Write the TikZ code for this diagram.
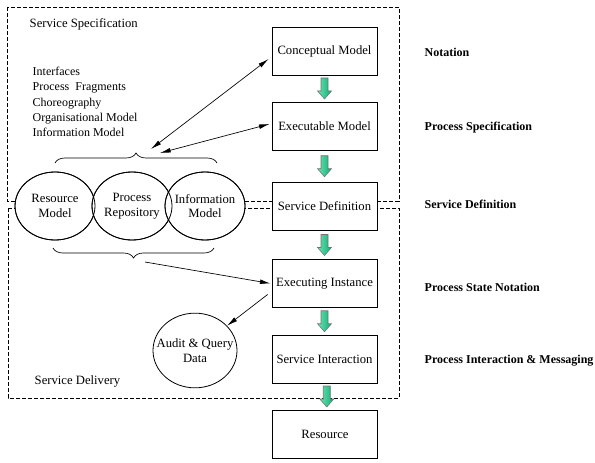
\documentclass[tikz,border=0pt]{standalone}
\usepackage{fontspec}
\setmainfont{Liberation Serif}
\usepackage{tikz}
\usetikzlibrary{shapes.geometric,arrows.meta,positioning,calc,
                decorations.pathreplacing}
\definecolor{vertFleche}{RGB}{10,175,120}
\definecolor{vertClair}{RGB}{110,225,175}

\begin{document}
\begin{tikzpicture}[x=0.75pt,y=-0.75pt,font=\rmfamily\fontsize{9.5}{11}\selectfont,
  boite/.style={rectangle,draw,line width=0.6pt,fill=white,minimum width=78.75pt,
                minimum height=36pt,inner sep=0pt},
  bulle/.style={ellipse,draw,line width=0.6pt,fill=white,minimum width=60pt,
                minimum height=51pt,inner xsep=-5pt,inner ysep=0pt,align=center},
  zone/.style={draw,line width=0.6pt,dash pattern=on 3pt off 1.5pt},
  etape/.style={anchor=west,font=\rmfamily\fontsize{9}{11}\selectfont\bfseries},
  fleche/.pic={\shadedraw[draw=black!55,line width=0.4pt,left color=vertClair,
                 right color=vertFleche]
                 (-3.5,-10.5) -- ++(7,0) -- ++(0,13) -- ++(3.5,0) -- ++(-7,8)
                 -- ++(-7,-8) -- ++(3.5,0) -- cycle;},
  lien/.style={{Latex[length=8pt,width=3.5pt]}-{Latex[length=8pt,width=3.5pt]},line width=0.5pt},
  sens/.style={-{Latex[length=8pt,width=3.5pt]},line width=0.5pt}]

  \useasboundingbox (0,0) rectangle (595,463);

  % zones en pointilles
  \draw[zone] (7,7) rectangle (399,201);
  \draw[zone] (8,208) rectangle (399,398);
  \node[anchor=west] (spec) at (25,24) {Service Specification};
  \node[anchor=west] (deliv) at (30,381) {Service Delivery};

  % chaine principale
  \node[boite] (CM) at (324.5,51) {Conceptual Model};
  \node[boite] (EM) at (324.5,126) {Executable Model};
  \node[boite] (SD) at (324.5,206.5) {Service Definition};
  \node[boite] (EI) at (324.5,283.5) {Executing Instance};
  \node[boite] (SI) at (324.5,359) {Service Interaction};
  \node[boite] (RS) at (325,434) {Resource};

  \pic at ($(CM.south)!0.5!(EM.north)$) {fleche};
  \pic at ($(EM.south)!0.5!(SD.north)$) {fleche};
  \pic at ($(SD.south)!0.5!(EI.north)$) {fleche};
  \pic at ($(EI.south)!0.5!(SI.north)$) {fleche};
  \pic at ($(SI.south)!0.5!(RS.north)+(2,0)$) {fleche};

  % niveaux
  \node[etape] (n1) at (420,52) {Notation};
  \node[etape] (n2) at (420,128) {Process Specification};
  \node[etape] (n3) at (420,204) {Service Definition};
  \node[etape] (n4) at (420,287) {Process State Notation};
  \node[etape] (n5) at (420,361) {Process Interaction \& Messaging};

  % depots
  \node[anchor=west,align=left,font=\rmfamily\fontsize{9}{11.5}\selectfont] (liste) at (28,102)
    {Interfaces\\Process\ \ Fragments\\Choreography\\Organisational Model\\Information Model};
  \node[bulle] (RM) at (55,206) {Resource\\Model};
  \node[bulle] (PR) at (132,206) {Process\\Repository};
  \node[bulle] (IM) at (205,206) {Information\\Model};
  \foreach \e in {RM,PR,IM}
    \draw[line width=0.6pt] (\e.center) ellipse [x radius=30pt,y radius=25.5pt];
  \node[bulle,minimum width=63pt,minimum height=56pt,inner xsep=-8pt] (AQ) at (195,350.5)
    {Audit \& Query\\Data};

  \draw[line width=0.5pt,decorate,decoration={brace,amplitude=7.5pt}] (55,163) -- (217,163);
  \draw[line width=0.5pt,decorate,decoration={brace,amplitude=7.5pt}] (214,248) -- (53,248);
  \coordinate (hautA) at (151,149);
  \coordinate (hautB) at (160,153);
  \coordinate (bas) at (145,262);

  \draw[lien] (hautA) -- ($(CM.west)+(-3,8)$);
  \draw[lien] (hautB) -- ($(EM.west)+(-2,-2)$);
  \draw[sens] (bas) -- ($(EI.west)+(-1,0)$);
  \draw[sens] ($(EI.west)+(-4,11)$) -- (AQ);
\end{tikzpicture}
\end{document}
